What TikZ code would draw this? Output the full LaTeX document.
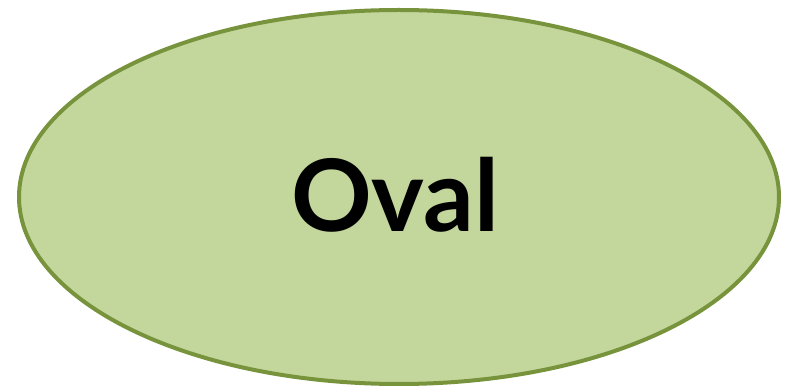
\documentclass[tikz,border=0pt]{standalone}
\usepackage{fontspec}
\setmainfont{Lato}
\definecolor{ovalfill}{HTML}{C3D69B}
\definecolor{ovaldraw}{HTML}{77933C}
\begin{document}
\begin{tikzpicture}[x=1pt,y=1pt,
  ovalshape/.style={fill=ovalfill,draw=ovaldraw,line width=4pt},
  ovaltext/.style={font=\fontsize{100}{100}\selectfont\bfseries,text=black,inner sep=0pt,anchor=base}]
\useasboundingbox (0,0) rectangle (788,-387);
\path[ovalshape] (399,-197) ellipse [x radius=380, y radius=187];
\node[ovaltext] (t) at (395,-232) {Oval};
\end{tikzpicture}
\end{document}
